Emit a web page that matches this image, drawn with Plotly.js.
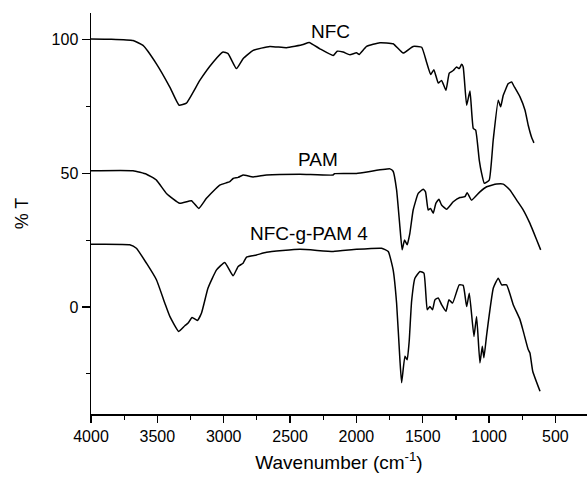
<!DOCTYPE html>
<html>
<head>
<meta charset="utf-8">
<script src="https://cdn.plot.ly/plotly-3.0.1.min.js"></script>
<style>html,body{margin:0;padding:0;background:#fff;}#chart{width:587px;height:479px;}</style>
</head>
<body>
<div id="chart"></div>
<script>
// Series names
const seriesNames = ["NFC", "PAM", "NFC-g-PAM 4"];

// NFC spectrum
const nfcWavenumber = [4000, 3850, 3683, 3608, 3507, 3406, 3336, 3281, 3180, 3080, 3005, 2967, 2904, 2854, 2778, 2652, 2527, 2401, 2356, 2275, 2175, 2145, 2100, 2049, 1999, 1979, 1923, 1823, 1723, 1647, 1572, 1508, 1471, 1440, 1416, 1383, 1358, 1325, 1300, 1270, 1245, 1225, 1207, 1195, 1169, 1144, 1119, 1101, 1074, 1056, 1036, 999, 969, 931, 913, 893, 855, 830, 812, 767, 729, 705, 679, 662];
const nfcT = [100.3, 100.2, 99.7, 97.9, 91, 82.3, 75.5, 76.3, 84.8, 91.6, 95.4, 94.8, 89.2, 92.9, 96, 97.5, 97, 98.2, 99, 96.6, 94.1, 95.7, 95.4, 94.4, 95.1, 94.5, 97.5, 98.9, 98.5, 95, 97.5, 97.2, 91.6, 87, 88.8, 83.8, 84.8, 81.1, 87.5, 88.5, 89.8, 89.2, 90.8, 89.8, 75.5, 80.8, 66.8, 66.2, 55, 50, 46.3, 47.5, 62.4, 77.4, 74.9, 79.2, 83.6, 84.2, 82.6, 78.6, 73.6, 68, 63.4, 61.4];

// PAM spectrum
const pamWavenumber = [4000, 3683, 3582, 3507, 3431, 3331, 3243, 3188, 3130, 3030, 2954, 2929, 2891, 2854, 2778, 2677, 2426, 2175, 2165, 1999, 1747, 1723, 1697, 1672, 1655, 1637, 1617, 1597, 1572, 1534, 1497, 1479, 1459, 1441, 1421, 1401, 1378, 1358, 1320, 1270, 1220, 1182, 1165, 1132, 1069, 1018, 943, 893, 843, 792, 742, 692, 641, 611];
const pamT = [51, 51, 49.7, 47.5, 42.5, 38.8, 39.8, 36.9, 40.7, 45.6, 46.9, 48.1, 48.5, 49.4, 48.7, 49.4, 49.7, 49.4, 49.9, 50, 51.7, 50.8, 43.8, 30, 21.4, 25.1, 23.3, 27.6, 36.3, 42.5, 44.1, 43.1, 36.3, 36.9, 35.1, 38.8, 40.3, 38.2, 36.6, 39.4, 41, 41.3, 42.8, 40, 43.1, 45, 46, 46, 43.8, 40, 36.3, 31.3, 25.1, 21.4];

// NFC-g-PAM 4 spectrum
const graftWavenumber = [4000, 3708, 3658, 3582, 3507, 3444, 3406, 3339, 3293, 3268, 3238, 3198, 3167, 3118, 3054, 2992, 2929, 2891, 2854, 2828, 2753, 2677, 2426, 2175, 1999, 1810, 1760, 1723, 1697, 1672, 1659, 1634, 1617, 1602, 1584, 1559, 1521, 1491, 1466, 1446, 1426, 1408, 1383, 1358, 1325, 1303, 1275, 1225, 1195, 1169, 1149, 1114, 1094, 1069, 1051, 1039, 1018, 968, 931, 905, 868, 818, 767, 742, 705, 692, 671, 616];
const graftT = [23.5, 23.3, 22, 16.4, 10.2, 1.5, -3.5, -9.1, -7, -6, -3.9, -5, -2.2, 7.1, 13.9, 16.7, 11.7, 15.2, 16.4, 18.7, 19.5, 20.5, 21.6, 20.8, 21.6, 22, 20.8, 13.9, 1.5, -19.7, -28.3, -18.4, -19.7, -12.8, 2.1, 10.8, 13.3, 12.7, -1, 0.2, -1, 2.7, 3.4, 0.9, -1.6, 2.7, 1.5, 8.3, 8.1, 0.2, 5.2, -11, -3.5, -20.9, -14.7, -19, -10.3, 7.1, 10.8, 8.3, 8.3, 0.9, -4.7, -9.1, -15.9, -17.2, -24, -31.5];

// Axis ticks
const xTickVals = [4000, 3500, 3000, 2500, 2000, 1500, 1000, 500];
const yTickVals = [0, 50, 100];

const lineStyle = {color: "#000", width: 1.5, shape: "spline", smoothing: 0.4};
const traces = [
  {x: nfcWavenumber, y: nfcT, name: seriesNames[0]},
  {x: pamWavenumber, y: pamT, name: seriesNames[1]},
  {x: graftWavenumber, y: graftT, name: seriesNames[2]}
].map(t => Object.assign({type: "scatter", mode: "lines", line: lineStyle, hoverinfo: "x+y+name"}, t));

const font = {family: "Liberation Sans, Arial, sans-serif", color: "#000"};

const layout = {
  width: 587, height: 479,
  margin: {l: 91, r: 0, t: 13, b: 65},
  paper_bgcolor: "#fff", plot_bgcolor: "#fff",
  showlegend: false,
  font: Object.assign({size: 16}, font),
  xaxis: {
    range: [4000, 262],
    tickvals: xTickVals,
    ticks: "outside", ticklen: 7, tickwidth: 1.2, tickcolor: "#000",
    minor: {dtick: 250, ticks: "outside", ticklen: 4, tickwidth: 1.2, tickcolor: "#000"},
    showline: true, linecolor: "#000", linewidth: 1.5,
    showgrid: false, zeroline: false,
    tickfont: Object.assign({size: 16}, font),
    title: {text: "Wavenumber (cm<sup>-1</sup>)", font: Object.assign({size: 19}, font), standoff: 12}
  },
  yaxis: {
    range: [-40, 110],
    tickvals: yTickVals,
    ticks: "outside", ticklen: 8, tickwidth: 1.2, tickcolor: "#000",
    minor: {dtick: 25, ticks: "outside", ticklen: 4, tickwidth: 1.2, tickcolor: "#000"},
    showline: true, linecolor: "#000", linewidth: 1.5,
    showgrid: false, zeroline: false,
    tickfont: Object.assign({size: 16}, font),
    title: {text: "% T", font: Object.assign({size: 18}, font), standoff: 18}
  },
  annotations: [
    {text: seriesNames[0], x: 2192, y: 102.9, xref: "x", yref: "y", showarrow: false, font: Object.assign({size: 19}, font)},
    {text: seriesNames[1], x: 2287, y: 55.3, xref: "x", yref: "y", showarrow: false, font: Object.assign({size: 19}, font)},
    {text: seriesNames[2], x: 2356, y: 27.4, xref: "x", yref: "y", showarrow: false, font: Object.assign({size: 19}, font)}
  ]
};

Plotly.newPlot("chart", traces, layout, {displayModeBar: false, staticPlot: true});
</script>
</body>
</html>
